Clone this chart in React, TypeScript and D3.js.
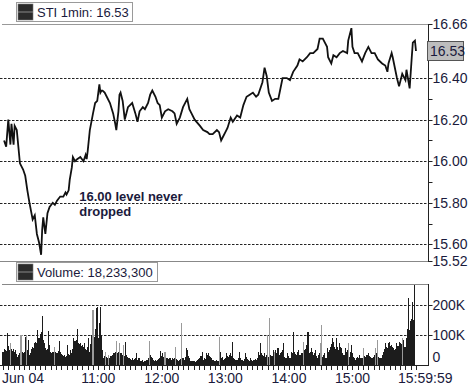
import React, { useEffect } from "react";
import * as d3 from "d3";

const W = 471;
const H = 386;

// minutes since 09:30 for the sampled STI 1-min closes
const priceMinutes = [1,3,5,7,8,10,11,13,16,19,21,23,25,28,30,32,34,36,37,38,40,42,44,47,49,51,54,57,59,60,62,63,65,66,68,70,73,76,78,79,80,82,85,87,89,91,92,93,94,96,98,101,104,106,107,109,110,111,113,115,118,122,125,127,129,132,134,137,139,141,144,146,148,150,153,156,160,162,164,167,170,174,176,178,181,186,189,193,195,198,202,204,206,208,210,212,215,217,221,224,227,230,233,236,239,241,245,247,249,251,254,257,260,262,264,268,271,274,278,280,283,287,290,293,297,299,302,306,307,310,312,315,318,321,325,326,329,330,332,335,339,342,345,348,351,354,358,361,363,364,367,368,372,374,377,380,381,384,386,387,389,390];
const prices = [16.10,16.07,16.20,16.08,16.18,16.08,16.17,16.15,15.99,15.96,15.93,15.86,15.80,15.72,15.74,15.65,15.61,15.55,15.67,15.73,15.65,15.75,15.78,15.80,15.79,15.81,15.83,15.83,15.85,15.84,15.86,15.91,15.97,16.02,16.00,16.01,16.02,16.00,16.03,16.01,16.05,16.15,16.23,16.28,16.29,16.37,16.33,16.34,16.34,16.33,16.31,16.28,16.23,16.18,16.15,16.24,16.32,16.33,16.29,16.20,16.26,16.28,16.23,16.19,16.24,16.26,16.25,16.28,16.32,16.34,16.31,16.28,16.27,16.21,16.24,16.25,16.24,16.23,16.18,16.21,16.26,16.30,16.25,16.23,16.20,16.17,16.15,16.14,16.13,16.13,16.15,16.14,16.10,16.12,16.14,16.16,16.21,16.19,16.22,16.21,16.27,16.31,16.32,16.33,16.31,16.32,16.38,16.45,16.41,16.33,16.29,16.30,16.30,16.35,16.40,16.40,16.39,16.43,16.46,16.49,16.48,16.50,16.52,16.52,16.54,16.59,16.59,16.55,16.50,16.47,16.51,16.50,16.52,16.53,16.52,16.58,16.64,16.55,16.52,16.52,16.48,16.52,16.55,16.52,16.52,16.49,16.47,16.46,16.43,16.47,16.52,16.50,16.40,16.36,16.42,16.39,16.44,16.35,16.50,16.57,16.58,16.53];
const lastPrice = 16.53;

// volume per minute, in thousands (09:30 .. 15:59)
const volumeK = [
  45,55,50,48,108,62,50,72,55,48,
  52,45,50,38,28,32,40,100,45,39,
  42,94,100,50,83,33,40,55,61,58,
  72,78,75,117,90,105,111,163,85,72,
  58,50,55,113,67,45,39,42,44,61,
  42,40,46,80,44,38,35,30,34,28,
  30,67,36,33,50,40,55,89,80,85,
  120,75,70,72,65,68,61,72,55,50,
  60,89,44,70,100,183,94,120,189,194,
  89,139,194,100,50,22,30,44,28,25,
  33,22,30,35,39,39,42,81,40,44,
  72,40,39,35,67,30,78,35,28,22,
  20,18,22,17,20,25,39,17,22,25,
  15,12,17,11,14,13,16,22,81,33,
  28,22,17,15,18,14,17,20,25,47,
  30,39,28,43,25,22,20,24,22,18,
  22,20,25,61,20,17,15,18,20,139,
  22,18,28,56,50,30,22,15,12,14,
  12,15,11,14,17,20,22,30,44,17,
  22,20,41,35,39,30,28,22,18,17,
  15,12,17,14,94,44,22,28,17,20,
  25,39,30,28,35,39,30,78,22,20,
  17,18,22,44,22,18,17,15,20,39,
  28,20,18,15,22,17,14,18,20,16,
  22,44,35,72,39,33,30,39,28,35,
  100,28,158,33,30,50,44,50,40,56,
  56,33,40,44,50,72,28,25,22,39,
  30,22,44,40,109,44,38,33,45,50,
  33,35,39,40,78,50,55,67,109,39,
  45,56,45,33,40,50,30,22,35,39,
  72,133,28,35,39,22,56,44,50,60,
  70,89,78,61,55,89,60,50,72,60,
  56,40,33,56,44,50,72,28,45,67,
  40,28,22,17,25,28,22,33,25,22,
  56,30,28,33,35,39,30,28,22,25,
  28,33,56,40,83,28,25,22,35,44,
  55,72,60,56,72,78,65,67,61,58,
  50,55,72,65,78,72,70,89,83,60,
  61,89,120,225,117,148,152,211,150,900
];
// minutes whose volume bar is drawn in the lighter (down-tick) tone
const downMinutes = [7,17,22,49,85,97,100,107,110,114,138,153,163,169,204,250,252,256,284,300,301,326,340,352,354,377];

const priceTickValues = [16.66, 16.4, 16.2, 16.0, 15.8, 15.6, 15.52];
const priceTickLabels = ["16.66", "16.40", "16.20", "16.00", "15.80", "15.60", "15.52"];
const priceGridValues = [16.4, 16.2, 16.0, 15.8, 15.6];
const priceMinorValues = [16.3, 16.1, 15.9, 15.7];
const volTickValues = [200, 100, 0];
const volTickLabels = ["200K", "100K", "0"];
const volGridValues = [200, 100];
const timeTickMinutes = [0, 90, 150, 210, 270, 330, 390];
const timeTickLabels = ["Jun 04", "11:00", "12:00", "13:00", "14:00", "15:00", "15:59:59"];

const priceLegend = "STI 1min: 16.53";
const volumeLegend = "Volume: 18,233,300";
const noteLines = ["16.00 level never", "dropped"];

const FONT = "'Liberation Sans', Arial, Helvetica, sans-serif";
const TXT = "#1a1a3c";

function Legend({ x, y, w, text }: { x: number; y: number; w: number; text: string }) {
  return (
    <g>
      <rect x={x + 0.5} y={y + 0.5} width={w} height={19} fill="#fff" stroke="#9a9a9a" />
      <rect x={x + 2} y={y + 2} width={15} height={16} fill="#2b2b2b" stroke="#777" strokeWidth={0.6} />
      <line x1={x + 2} x2={x + 17} y1={y + 10} y2={y + 10} stroke="#8a8a8a" strokeWidth={1} />
      <text x={x + 21} y={y + 15} fontSize={13} fontFamily={FONT} fill={TXT}>{text}</text>
    </g>
  );
}

export default function App() {
  useEffect(() => {
    document.body.style.margin = "0";
  }, []);

  const axisX = 428.5;
  const pTop = 24, pBot = 261;
  const vTop = 284, vBot = 365;

  const x = d3.scaleLinear().domain([0, 390]).range([3, 416]);
  const y = d3.scaleLinear().domain([15.52, 16.66]).range([pBot, pTop]);
  const yv = d3.scaleLinear().domain([0, 100]).range([vBot, vBot - 30]);

  const line = d3
    .line<number>()
    .x((_, i) => x(priceMinutes[i]))
    .y((d) => y(d));

  const barW = x(1) - x(0);
  const downSet = new Set(downMinutes);
  const fiveMin = d3.range(0, 391, 5);

  return (
    <svg width={W} height={H} style={{ display: "block" }} fontFamily={FONT}>
      <defs>
        <clipPath id="pclip">
          <rect x={0} y={pTop} width={axisX} height={pBot - pTop} />
        </clipPath>
        <clipPath id="vclip">
          <rect x={0} y={vTop + 1} width={axisX} height={vBot - vTop - 1} />
        </clipPath>
      </defs>
      <rect width={W} height={H} fill="#fff" />

      {/* price panel */}
      {priceGridValues.map((v) => (
        <line key={"pg" + v} x1={0} x2={axisX} y1={Math.round(y(v)) + 0.5} y2={Math.round(y(v)) + 0.5}
          stroke="#222" strokeDasharray="2.5,1.5" />
      ))}
      <line x1={2} x2={axisX} y1={pTop + 0.5} y2={pTop + 0.5} stroke="#999" />
      <line x1={0} x2={axisX} y1={pBot + 0.5} y2={pBot + 0.5} stroke="#888" />
      <path d={line(prices) || ""} fill="none" stroke="#111" strokeWidth={1.8} strokeLinejoin="miter" clipPath="url(#pclip)" />
      <line x1={axisX} x2={axisX} y1={pTop} y2={pBot + 1} stroke="#222" />
      {priceTickValues.map((v, i) => (
        <g key={"pt" + v}>
          <line x1={axisX} x2={axisX + 4} y1={Math.round(y(v)) + 0.5} y2={Math.round(y(v)) + 0.5} stroke="#222" />
          <text x={axisX + 4} y={y(v)} dy="0.36em" fontSize={14} fill={TXT}>{priceTickLabels[i]}</text>
        </g>
      ))}
      {priceMinorValues.map((v) => (
        <line key={"pm" + v} x1={axisX} x2={axisX + 4} y1={Math.round(y(v)) + 0.5} y2={Math.round(y(v)) + 0.5} stroke="#222" />
      ))}
      <rect x={427.5} y={Math.round(y(lastPrice)) - 9.5} width={36} height={19} fill="#bdbdbd" stroke="#555" />
      <text x={430} y={y(lastPrice)} dy="0.36em" fontSize={14} fill={TXT}>{lastPrice.toFixed(2)}</text>

      {noteLines.map((t, i) => (
        <text key={t} x={x(72)} y={y(15.83) + 4 + i * 15} fontSize={13} fill={TXT} fontWeight="bold">{t}</text>
      ))}

      <Legend x={16} y={2} w={116} text={priceLegend} />

      {/* volume panel */}
      <Legend x={16} y={262} w={141} text={volumeLegend} />
      <line x1={2} x2={axisX} y1={vTop + 0.5} y2={vTop + 0.5} stroke="#888" />
      {volGridValues.map((v) => (
        <line key={"vg" + v} x1={0} x2={axisX} y1={Math.round(yv(v)) + 0.5} y2={Math.round(yv(v)) + 0.5}
          stroke="#222" strokeDasharray="2.5,1.5" />
      ))}
      <g clipPath="url(#vclip)" shapeRendering="crispEdges">
        {volumeK.map((v, i) => (
          <rect key={"vb" + i} x={x(i) - barW / 2} y={yv(v)} width={barW} height={vBot - yv(v)}
            fill={downSet.has(i) ? "#9a9a9a" : "#1c1c1c"} />
        ))}
      </g>
      <line x1={axisX} x2={axisX} y1={vTop} y2={vBot + 1} stroke="#222" />
      {volTickValues.map((v, i) => (
        <g key={"vt" + v}>
          {v > 0 && <line x1={axisX} x2={axisX + 4} y1={Math.round(yv(v)) + 0.5} y2={Math.round(yv(v)) + 0.5} stroke="#222" />}
          <text x={axisX + 4} y={v === 0 ? yv(v) - 8 : yv(v)} dy="0.36em" fontSize={14} fill={TXT}>{volTickLabels[i]}</text>
        </g>
      ))}

      {/* time axis */}
      <line x1={0} x2={axisX} y1={vBot + 0.5} y2={vBot + 0.5} stroke="#222" />
      {fiveMin.map((m) => (
        <line key={"tt" + m} x1={Math.round(x(m)) + 0.5} x2={Math.round(x(m)) + 0.5} y1={vBot} y2={vBot + 5} stroke="#222" />
      ))}
      {timeTickMinutes.map((m, i) => {
        const first = i === 0;
        const last = i === timeTickMinutes.length - 1;
        return (
          <text key={"tl" + m} x={first ? 2 : last ? x(m) - 18 : x(m)} y={383} fontSize={14} fill={TXT}
            textAnchor={first || last ? "start" : "middle"}>{timeTickLabels[i]}</text>
        );
      })}
    </svg>
  );
}
